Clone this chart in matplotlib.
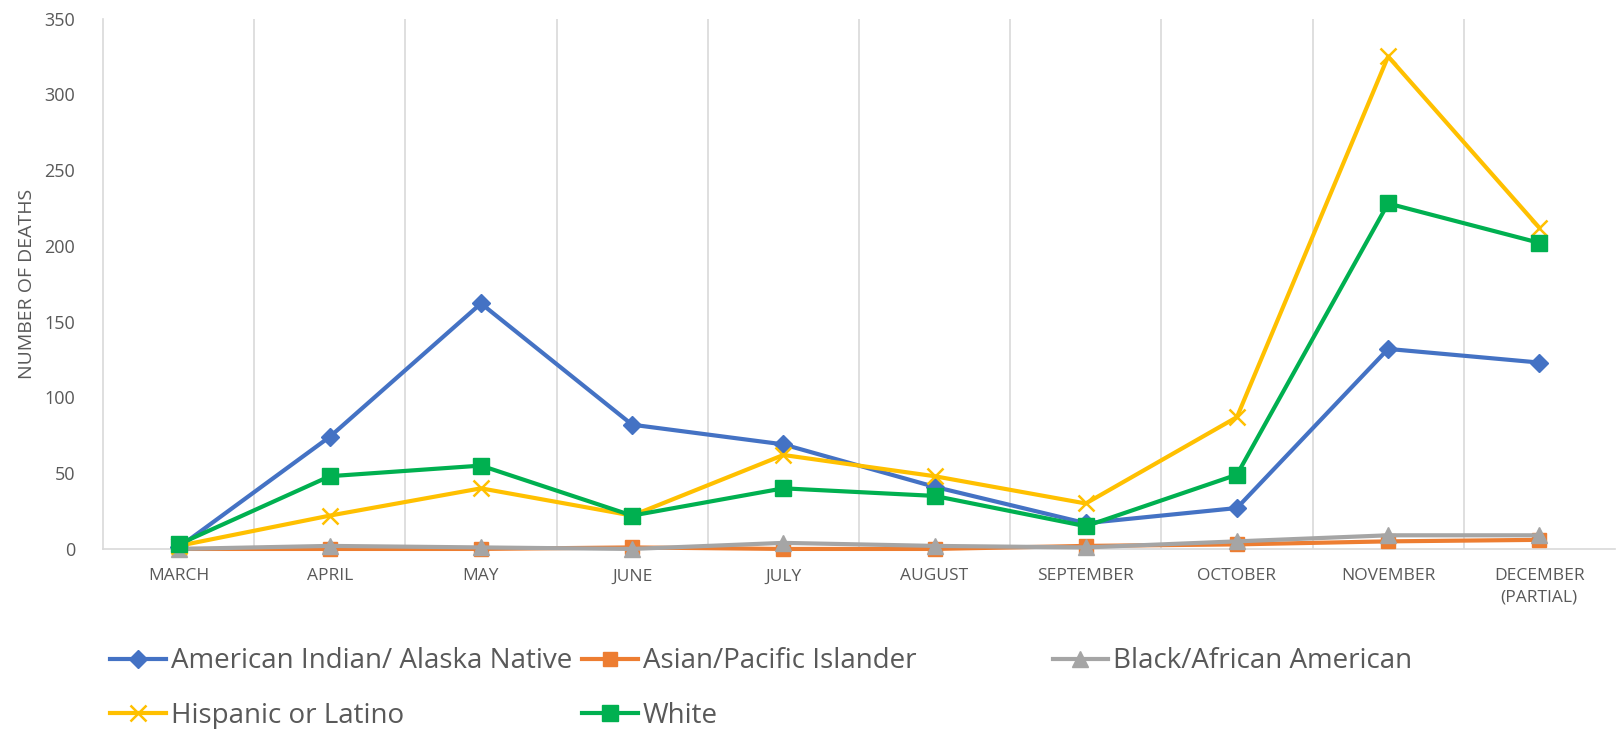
import matplotlib
matplotlib.use("Agg")
import matplotlib.pyplot as plt

plt.rcParams['font.family'] = ['Open Sans', 'DejaVu Sans']

months = ["MARCH", "APRIL", "MAY", "JUNE", "JULY", "AUGUST", "SEPTEMBER",
          "OCTOBER", "NOVEMBER", "DECEMBER\n(PARTIAL)"]
american_indian = [1, 74, 162, 82, 69, 41, 17, 27, 132, 123]
asian_pi = [0, 0, 0, 1, 0, 0, 2, 3, 5, 6]
black = [0, 2, 1, 0, 4, 2, 1, 5, 9, 9]
hispanic = [2, 22, 40, 22, 62, 48, 30, 87, 325, 212]
white = [3, 48, 55, 22, 40, 35, 15, 49, 228, 202]

series = [
    ("American Indian/ Alaska Native", american_indian, "#4472C4", "D", 9),
    ("Asian/Pacific Islander", asian_pi, "#ED7D31", "s", 10),
    ("Black/African American", black, "#A5A5A5", "^", 11),
    ("Hispanic or Latino", hispanic, "#FFC000", "x", 12),
    ("White", white, "#00B050", "s", 11),
]

fig = plt.figure(figsize=(16.17, 7.29), dpi=100)
ax = fig.add_axes([0.0637, 0.247, 0.935, 0.7275])
x = list(range(len(months)))
handles = {}
for name, vals, col, mk, ms in series:
    h, = ax.plot(x, vals, color=col, lw=3.0, marker=mk, markersize=ms,
                 markeredgewidth=1.8 if mk == "x" else 1, markeredgecolor=col,
                 markerfacecolor=col, label=name, clip_on=False, zorder=3)
    handles[name] = h

ax.set_xlim(-0.5, 9.5)
ax.set_ylim(0, 350)
ax.set_yticks(range(0, 351, 50))
ax.set_xticks(x)
ax.set_xticklabels(months, fontsize=12.5, color="#595959")
ax.tick_params(axis='y', labelsize=13, labelcolor="#595959", length=0, pad=20)
ax.tick_params(axis='x', length=0, pad=14)
for lab in ax.get_xticklabels():
    lab.set_linespacing(1.45)
for xv in [i + 0.5 for i in range(9)]:
    ax.axvline(xv, color="#D9D9D9", lw=1.2, zorder=1)
for s in ["top", "right"]:
    ax.spines[s].set_visible(False)
for s in ["left", "bottom"]:
    ax.spines[s].set_color("#D9D9D9")
    ax.spines[s].set_linewidth(1.2)
ax.set_ylabel("NUMBER OF DEATHS", fontsize=14, color="#595959", labelpad=6)

cols = [
    (["American Indian/ Alaska Native", "Hispanic or Latino"], 0.068),
    (["Asian/Pacific Islander", "White"], 0.360),
    (["Black/African American"], 0.651),
]
for names, xpos in cols:
    leg = fig.legend([handles[n] for n in names], names, loc="upper left",
                     bbox_to_anchor=(xpos, 0.112), frameon=False,
                     fontsize=20, handlelength=2.0, handletextpad=0.18,
                     labelspacing=0.95, borderaxespad=0, borderpad=0)
    for t in leg.get_texts():
        t.set_color("#595959")

fig.savefig("out.png", dpi=100)
